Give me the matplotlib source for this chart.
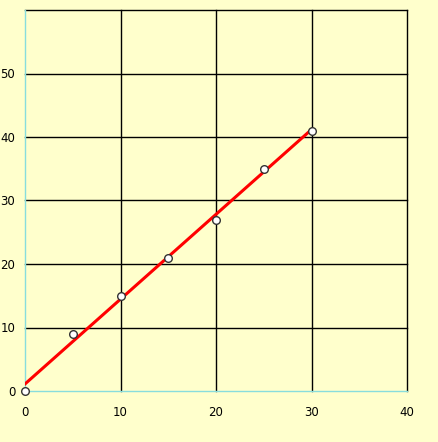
import numpy as np
import matplotlib.pyplot as plt

#Data:-------------------------------------------------------------------------

x_values = [0, 5, 10, 15, 20, 25, 30]
y_values = [0, 9, 15, 21, 27, 35, 41]
x_ticks = [0, 10, 20, 30, 40]
y_ticks = [0, 10, 20, 30, 40, 50]
x_max = 40
y_max = 60

#Figure:-----------------------------------------------------------------------

bg = "#ffffcc"
fig = plt.figure(figsize=(4.38, 4.42), dpi=100, facecolor=bg)
ax = fig.add_axes([25/438, 51/442, 382/438, 381/442], facecolor=bg)

slope, intercept = np.polyfit(x_values, y_values, 1)
x_fit = np.array([min(x_values), max(x_values)])
ax.plot(x_fit, slope*x_fit + intercept, color="#ff0000", linewidth=2.2, zorder=3)
ax.plot(x_values, y_values, linestyle="none", marker="o", markersize=5.5,
        markerfacecolor="white", markeredgecolor="#333333", markeredgewidth=1,
        zorder=4, clip_on=False)

ax.set_xlim(0, x_max)
ax.set_ylim(0, y_max)
ax.set_xticks(x_ticks)
ax.set_yticks(y_ticks)

# grid lines drawn by hand so the ones on the edges stay black
for xv in x_ticks[1:]:
    ax.axvline(xv, color="black", linewidth=1, zorder=1, clip_on=False)
for yv in y_ticks[1:] + [y_max]:
    ax.axhline(yv, color="black", linewidth=1, zorder=1, clip_on=False)

for side in ["top", "right"]:
    ax.spines[side].set_visible(False)
for side in ["left", "bottom"]:
    ax.spines[side].set_color("#88dddd")
    ax.spines[side].set_linewidth(1)
    ax.spines[side].set_zorder(2)

ax.tick_params(length=0, labelsize=8.5, colors="black")
ax.tick_params(axis="x", pad=11)
ax.tick_params(axis="y", pad=7)

fig.savefig("out.png", dpi=100, facecolor=bg)
